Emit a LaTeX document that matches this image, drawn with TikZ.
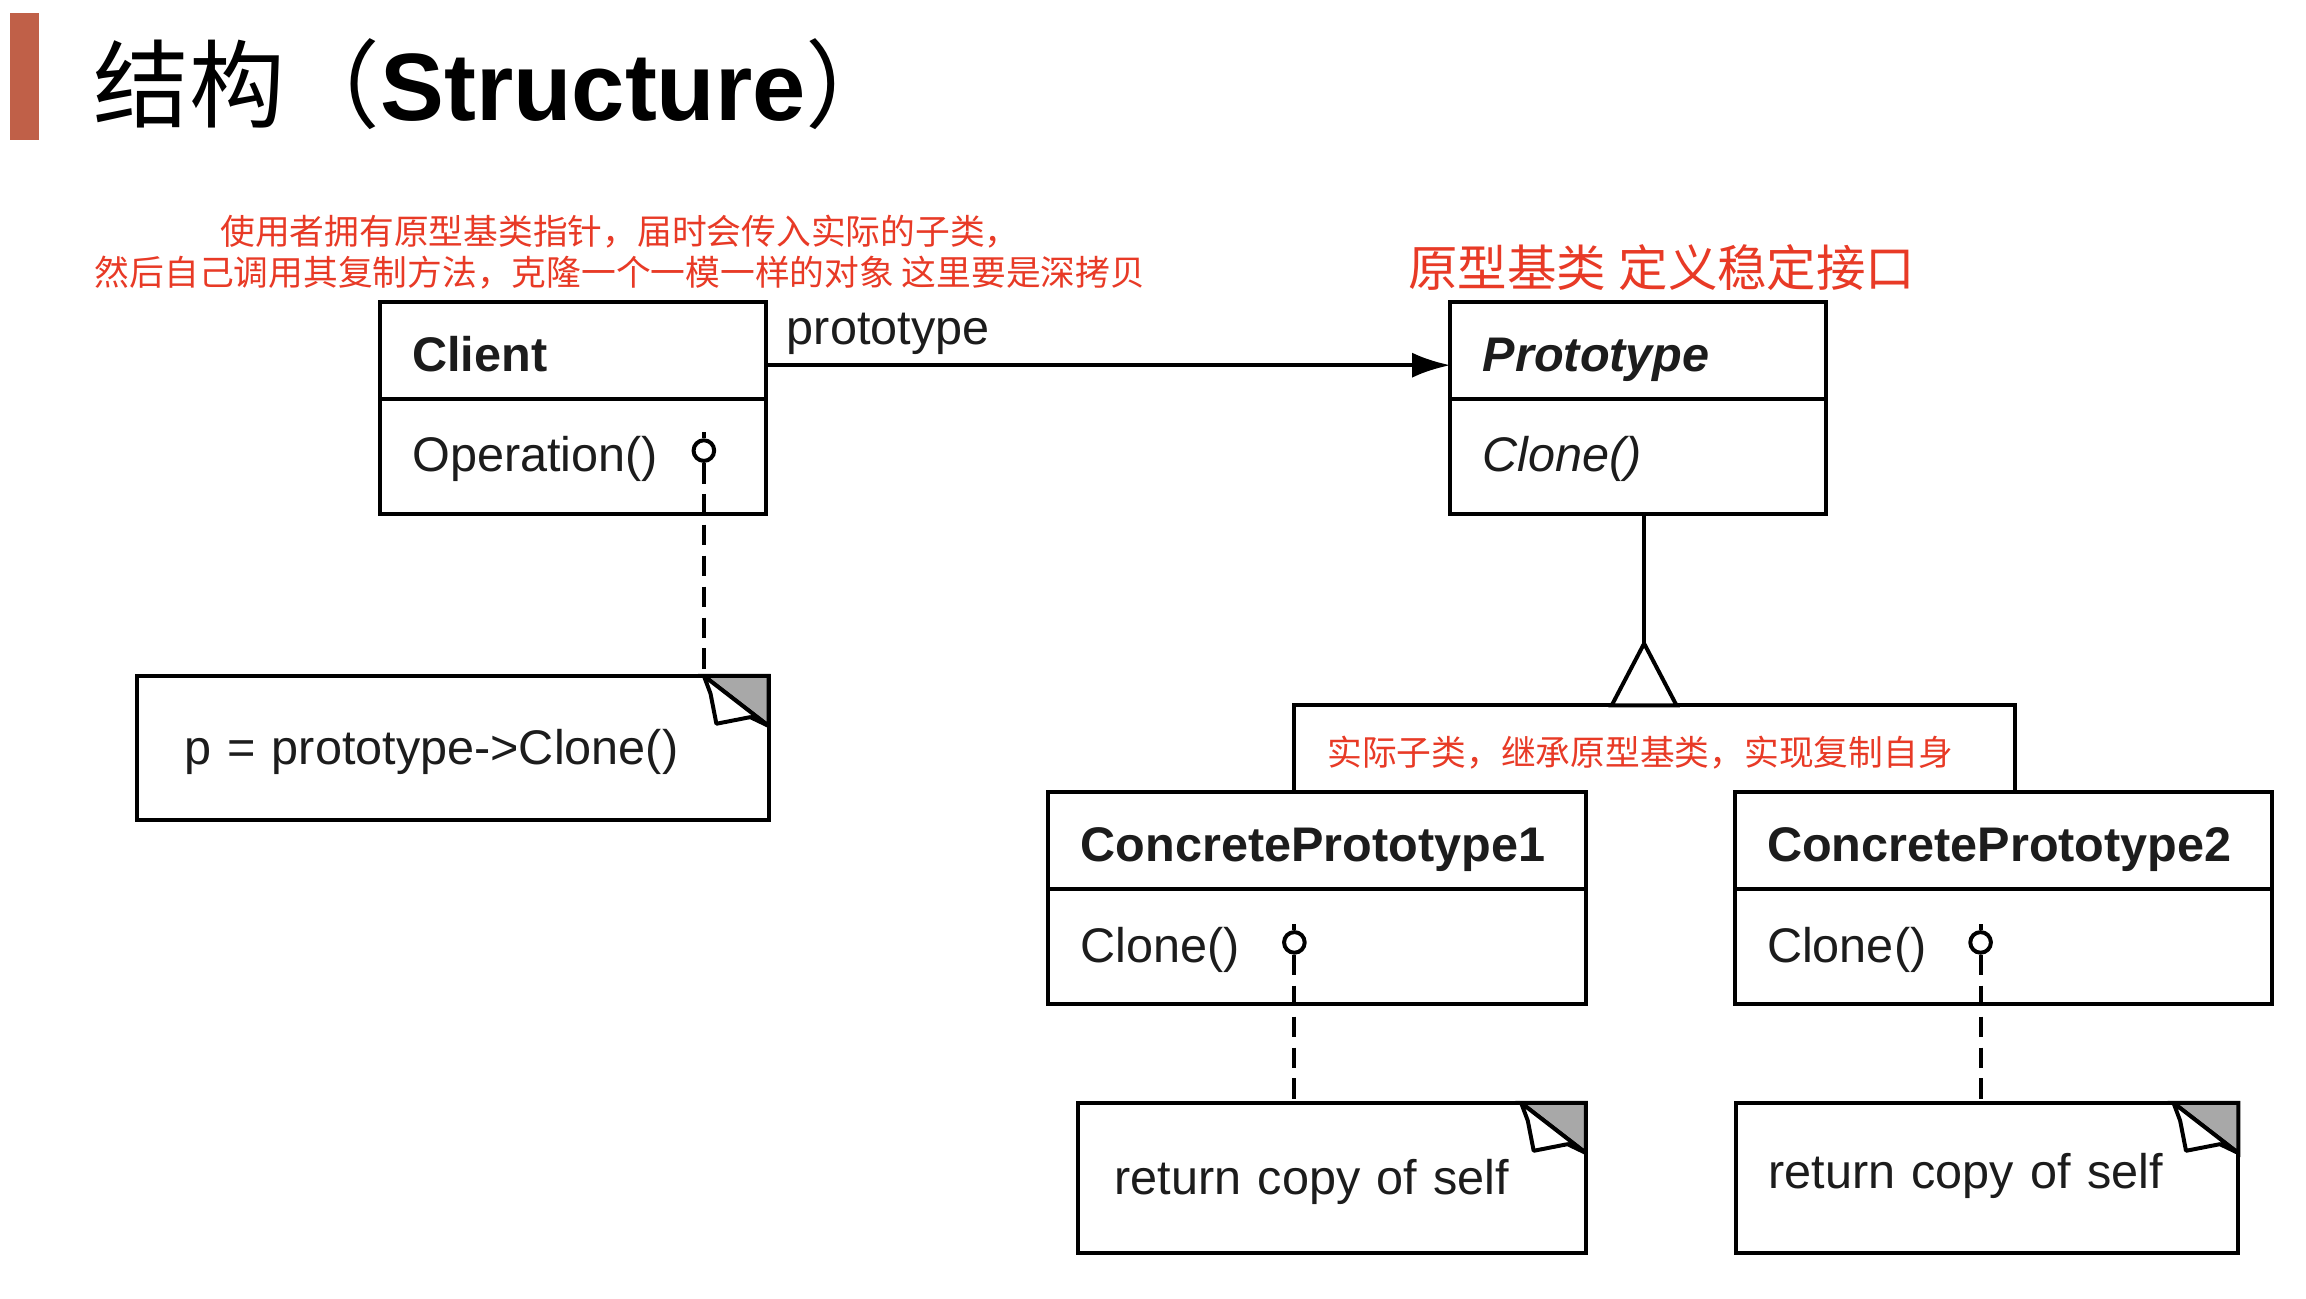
\documentclass[tikz,border=0pt]{standalone}
\usepackage{fontspec}
\setmainfont{Liberation Sans}
\newfontfamily\cjk{Noto Sans CJK SC}
\usetikzlibrary{calc,positioning,arrows.meta}

\definecolor{titlebar}{RGB}{192,96,72}
\definecolor{remark}{RGB}{232,58,38}
\definecolor{foldgray}{RGB}{168,168,168}
\definecolor{umltext}{RGB}{28,28,28}

% dog-ear of a note, drawn on the note's top right corner
\def\foldcorner(#1){%
  \draw[fill=foldgray] ($(#1.north east)+(-44,0)$) -- (#1.north east) -- ($(#1.north east)+(0,34)$) -- cycle;
  \draw[fill=white, line join=round] ($(#1.north east)+(-44,0)$) -- ++(4.5,12) -- ++(4,20.5) -- ++(23,-4.5) -- ($(#1.north east)+(0,34)$) -- cycle;
}

\begin{document}
\begin{tikzpicture}[x=0.5pt, y=-0.5pt, line width=1.35pt,
  uml/.style={font=\fontsize{16.5}{18}\selectfont, text=umltext},
  classhead/.style={uml, draw, outer sep=0pt, anchor=north west, minimum height=33pt, text width=#1, inner xsep=11pt, inner ysep=0pt, align=left, text height=15.5pt, text depth=1.5pt, font=\bfseries\fontsize{16.5}{18}\selectfont},
  classops/.style={uml, draw, outer sep=0pt, minimum height=39pt, text width=#1, inner xsep=11pt, inner ysep=0pt, align=left, text height=12pt, text depth=1.5pt},
  note/.style={uml, draw, outer sep=0pt, anchor=north west, inner ysep=0pt, align=left},
  dot/.style={circle, draw, fill=white, minimum size=7pt, inner sep=0pt},
  noteline/.style={dash pattern=on 7pt off 3.5pt},
  remarktext/.style={text=remark, inner sep=0pt, font=\cjk\fontsize{11.8}{14}\selectfont}]
  %%%%% START %%%%%

  \useasboundingbox (0,0) rectangle (1566,881.5);
  \fill[white] (0,0) rectangle (1566,881.5);

  \fill[titlebar] (7,9) rectangle (26.5,95);
  \node[anchor=base west, inner sep=0pt, font=\fontsize{32.5}{36}\selectfont] (title) at (62,82) {{\cjk 结构（}\textbf{Structure}{\cjk ）}};

  \node[remarktext, align=center] (usage) at (421,171) {使用者拥有原型基类指针，届时会传入实际的子类，\\然后自己调用其复制方法，克隆一个一模一样的对象 这里要是深拷贝};
  \node[remarktext, anchor=west, font=\cjk\fontsize{16.8}{18}\selectfont] (basenote) at (955,182) {原型基类\hspace{0.25em}定义稳定接口};

  % client
  \node[classhead=109pt] (client) at (258,205) {Client};
  \node[classops=109pt, below=0pt of client] (clientops) {Operation()};
  \node[dot] (clientdot) at (478,306) {};
  \draw (clientdot.north) -- ++(0,-4);
  \node[note, text width=182.5pt, inner xsep=16pt, minimum height=49pt, text height=13pt, text depth=1.5pt] (clientnote) at (93,459) {p = prototype->Clone()};
  \draw[noteline] (clientdot) -- (clientdot |- clientnote.north);
  \foldcorner(clientnote)

  % prototype
  \node[classhead=105.5pt, font=\bfseries\itshape\fontsize{16.5}{18}\selectfont] (proto) at (985,205) {Prototype};
  \node[classops=105.5pt, below=0pt of proto, font=\itshape\fontsize{16.5}{18}\selectfont] (protoops) {Clone()};

  \draw[-{Latex[length=13pt,width=8.5pt]}] ([yshift=-5pt]client.east) -- node[pos=0, anchor=base west, xshift=6.5pt, yshift=7pt, inner sep=0pt, uml] (rolename) {prototype} ([yshift=-5pt]proto.west);

  % concrete prototypes
  \node[classhead=160.5pt] (cp1) at (712,538) {ConcretePrototype1};
  \node[classops=160.5pt, below=0pt of cp1] (cp1ops) {Clone()};
  \node[dot] (cp1dot) at (879,640) {};
  \draw (cp1dot.north) -- ++(0,-4);
  \node[note, text width=147.5pt, inner xsep=12.5pt, minimum height=51pt, text height=13pt, text depth=2pt] (cp1note) at (732,749) {return copy of self};
  \draw[noteline] (cp1dot) -- (cp1dot |- cp1note.north);
  \foldcorner(cp1note)

  \node[classhead=160.5pt] (cp2) at (1178,538) {ConcretePrototype2};
  \node[classops=160.5pt, below=0pt of cp2] (cp2ops) {Clone()};
  \node[dot] (cp2dot) at (1345,640) {};
  \draw (cp2dot.north) -- ++(0,-4);
  \node[note, text width=148.5pt, inner xsep=11pt, minimum height=51pt, text height=11pt, text depth=4pt] (cp2note) at (1179,749) {return copy of self};
  \draw[noteline] (cp2dot) -- (cp2dot |- cp2note.north);
  \foldcorner(cp2note)

  % inheritance
  \coordinate (apex) at ($([xshift=2pt]protoops.south)+(0,88)$);
  \coordinate (fork) at ($(apex)+(0,42)$);
  \draw ([xshift=2pt]protoops.south) -- (apex);
  \draw (cp1dot |- cp1.north) |- (fork) -| ([xshift=4pt]cp2.north);
  \draw[fill=white] (apex) -- ++(-22,42) -- ++(44,0) -- cycle;

  \node[remarktext, anchor=west] (subnote) at (900,511) {实际子类，继承原型基类，实现复制自身};

  %%%%% END %%%%%
\end{tikzpicture}
\end{document}
